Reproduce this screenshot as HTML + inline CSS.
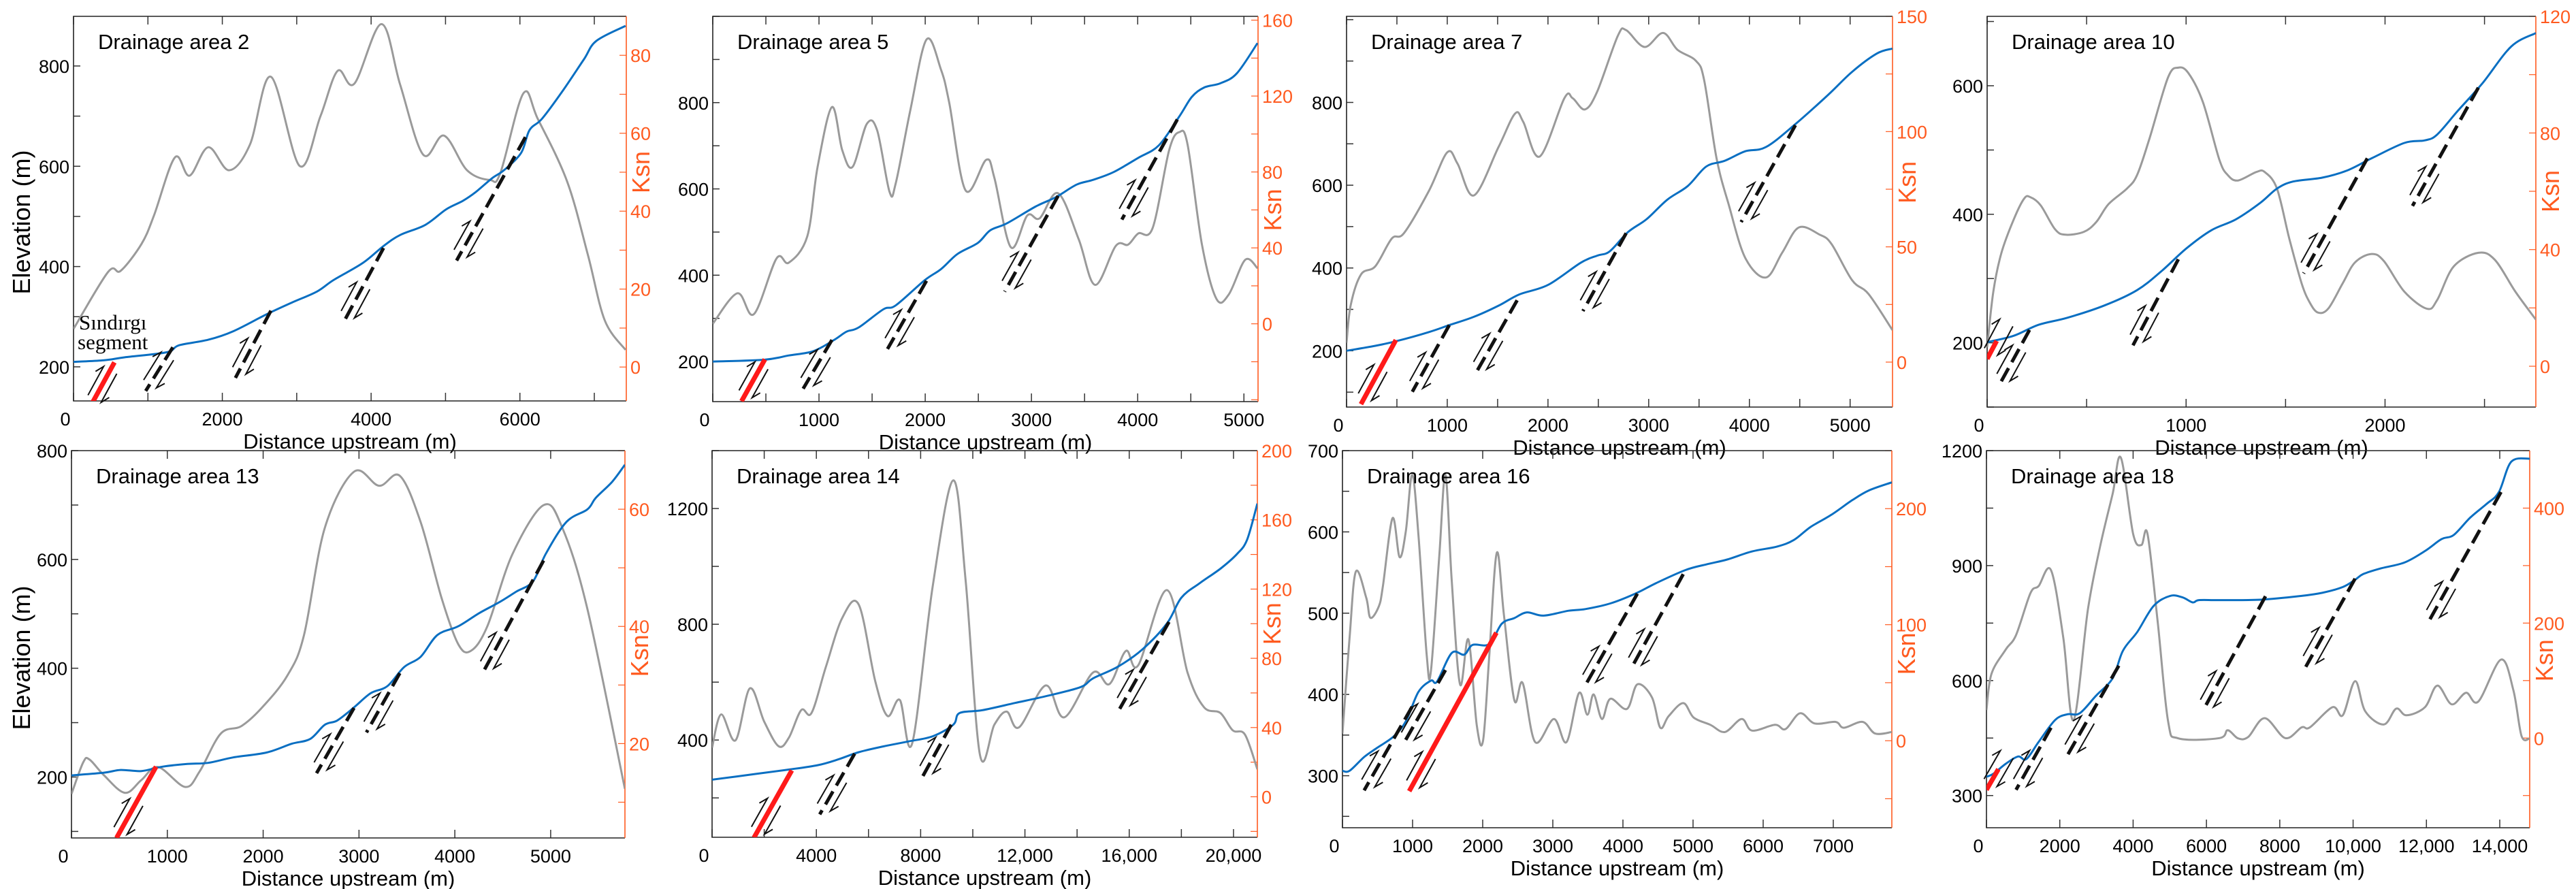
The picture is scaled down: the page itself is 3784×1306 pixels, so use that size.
<!DOCTYPE html>
<html><head><meta charset="utf-8"><title>Drainage area profiles</title>
<style>
html,body{margin:0;padding:0;background:#fff;}
svg{display:block;font-family:"Liberation Sans",Arial,sans-serif;}
</style></head>
<body>
<svg id="fig" width="3784" height="1306" viewBox="0 0 3784 1306" xmlns="http://www.w3.org/2000/svg">
<rect width="3784" height="1306" fill="#fff"/>
</svg>
<script>
// ===== DATA (distance upstream m, elevation m, Ksn) =====
const da2_ex=[0,409,690,1251,1419,1811,2148,2597,2933,3270,3494,3887,4167,4391,4728,5008,5233,5401,5625,5793,6017,6129,6298,6578,6859,7027,7420];
const da2_ey=[210,213,219,229,243,254,271,305,328,350,373,407,441,463,483,514,531,548,576,593,627,672,695,751,813,850,880];
const da2_kx=[0,465,634,914,1082,1363,1559,1811,2092,2372,2653,3040,3320,3550,3774,4139,4391,4700,4980,5289,5597,5737,6046,6242,6635,6915,7140,7420];
const da2_ky=[9.8,24.4,24.7,31.6,38.9,53.8,49.1,56.4,50.5,57.1,74.5,51.6,64.4,76,72.7,88,72.4,54.5,59.4,50.5,48,49.8,70.2,63.6,47.6,28.7,12,4.4];
const da2_faults=[[550,209,230,122,1],[1335,239,970,152,0],[2653,312,2176,178,0],[4167,437,3634,290,0],[6074,658,5149,412,0]];

const da5_ex=[0,484,716,948,1142,1258,1374,1606,1722,1993,2148,2303,2496,2612,2767,3038,3231,3425,3580,3773,4005,4199,4392,4509,4625,4780,4934,5128];
const da5_ey=[200,204,214,224,250,269,279,321,330,388,414,449,475,504,520,559,581,610,621,639,672,701,768,813,835,845,868,938];
const da5_kx=[0,232,387,600,716,890,987,1122,1219,1316,1451,1548,1664,1722,1858,2012,2148,2226,2380,2574,2651,2806,2961,3077,3251,3444,3599,3793,3909,4005,4141,4296,4392,4470,4605,4741,4857,5012,5128];
const da5_ky=[0,16.1,5.1,34.4,32.2,46.1,82.7,114.2,91.5,82.7,105.4,101.8,69.5,73.9,112,149.8,134,116.4,70.3,86.4,76.9,40.3,57.1,55.6,68.8,44.7,20.5,41,41.7,47.6,50.5,91.5,101,94.4,41.7,13.2,15.4,33.7,29.3];
const da5_faults=[[491,205,271,108,1],[1122,250,851,137,0],[2012,387,1645,229,0],[3251,584,2748,362,0],[4373,761,3851,529,0]];

const da7_ex=[0,286,490,816,1020,1265,1510,1714,2000,2327,2490,2612,2796,2980,3184,3388,3571,3755,3959,4163,4449,4776,5020,5265,5420];
const da7_ey=[200,212,223,245,262,282,309,336,359,413,430,440,487,518,565,598,645,659,682,692,746,817,874,918,930];
const da7_kx=[0,41,143,286,449,571,816,1000,1102,1265,1510,1673,1755,1918,2163,2245,2367,2490,2694,2776,2959,3143,3286,3469,3551,3673,3796,3959,4163,4327,4490,4694,4816,5020,5184,5420];
const da7_ky=[8.4,24.7,38,41.6,53.6,56,74.1,91,86.1,72.3,93.4,107.8,104.2,89.2,114.5,114.5,109.6,117.5,141.6,144,136.7,142.8,135.5,130.7,122.3,88.6,68.1,45.2,36.7,47.6,58.4,55.4,51.2,35.5,29.5,13.9];
const da7_faults=[[490,226,143,71,1],[1020,262,653,101,0],[1694,322,1286,147,0],[2776,484,2347,296,0],[4457,745,3918,511,0]];

const da10_ex=[0,134,258,403,589,754,878,1002,1126,1250,1374,1457,1539,1684,1808,1932,2097,2200,2262,2366,2490,2634,2758];
const da10_ey=[201,211,228,239,258,282,312,347,375,392,418,440,451,457,468,487,511,515,524,561,604,661,682];
const da10_kx=[0,31,72,134,186,217,269,341,393,486,548,610,702,754,816,909,961,1012,1085,1167,1209,1260,1353,1395,1457,1519,1581,1622,1663,1715,1787,1849,1932,1994,2097,2211,2262,2345,2469,2552,2655,2758];
const da10_ky=[6.5,25.6,38.9,50.4,57.5,58,55.2,47,45.1,46.1,49.4,55.6,60.9,65.6,78.1,99,102.4,100.5,90.5,70.9,65.6,63.7,66.6,66.6,60.9,43.7,28.4,21.8,18.4,19.8,28.4,35.6,38.5,36.1,25.6,19.7,22.7,34.2,38.9,36.5,25.6,16];
const da10_faults=[[48,203,0,175,1],[213,220,62,135,0],[961,330,733,196,0],[1911,487,1591,308,0],[2469,597,2138,413,0]];

const da13_ex=[0,339,513,730,948,1209,1426,1687,2035,2296,2491,2643,2774,2948,3122,3296,3470,3643,3817,4035,4252,4470,4643,4817,4948,5165,5383,5470,5643,5774];
const da13_ey=[203,208,213,211,219,224,226,236,245,261,270,296,304,328,354,367,402,421,461,477,501,522,541,560,610,669,692,713,743,774];
const da13_kx=[0,122,187,339,557,730,904,1187,1339,1557,1774,1991,2252,2426,2643,2948,3209,3426,3643,3861,4035,4165,4339,4600,4926,5122,5383,5774];
const da13_ky=[11.4,16.8,17.3,14.6,11.6,13.8,16,12.6,15.3,21.7,23,26.2,31.6,38.5,56.8,66.4,64,65.7,57.8,44.9,37,35.8,40,52.3,60.7,56.8,43,12.3];
const da13_faults=[[883,219,470,88,1],[2948,327,2557,207,0],[3426,391,3078,282,0],[4926,598,4296,393,0]];

const da14_ex=[0,1686,2947,4051,4839,5627,6573,7518,8464,9252,9489,10356,11616,12877,14138,14611,15557,16502,17448,18000,18707,19496,20126,20520,20914];
const da14_ey=[263,283,298,313,333,358,378,395,413,453,493,503,528,553,583,613,653,713,803,892,942,992,1042,1092,1217];
const da14_kx=[0,347,898,1450,2001,2553,2947,3420,3814,4366,4997,5627,6258,6730,7203,7676,8464,9252,9725,10276,10828,11301,11774,12798,13507,14611,15241,15872,16345,17448,18236,18866,19496,19969,20441,20914];
const da14_ky=[28.4,47.6,32.6,62.6,43.4,29.2,34.2,50.1,48.4,75.1,103.5,111,66.8,46.7,55.9,30.9,121.9,182.8,125.2,24.2,41.7,49.2,40.1,64.3,45.9,71.8,65.1,84.3,76,119.4,71.8,51.8,48.4,38.4,35.9,15.9];
const da14_faults=[[3058,295,1608,63,1],[5469,353,4129,143,0],[9173,453,8070,273,0],[17526,808,15635,508,0]];

const da16_ex=[0,101,309,488,726,904,1083,1261,1350,1558,1737,1856,2094,2272,2451,2630,2868,3225,3463,3819,4176,4474,4890,5188,5485,5842,6199,6437,6675,6972,7270,7508,7835];
const da16_ey=[306,306,323,334,348,367,403,417,416,451,449,461,462,487,494,501,497,503,505,512,524,537,553,560,566,576,582,590,606,621,639,651,661];
const da16_kx=[0,101,190,339,399,518,577,714,815,904,994,1083,1202,1261,1380,1469,1558,1677,1796,1915,2005,2094,2201,2303,2451,2570,2749,3016,3195,3373,3492,3582,3701,3819,4057,4206,4414,4533,4652,4860,5009,5247,5455,5693,5842,6169,6318,6526,6734,7032,7151,7419,7597,7835];
const da16_ky=[6.2,88.4,145.7,123.3,105.9,115.8,133.2,191.8,158.2,180.6,229.1,178.1,73.5,59.8,158.2,229.1,138.2,48.6,87.2,13.7,0,73.5,161.9,108.3,34.9,49.8,-1.2,18.7,-1.2,41.1,22.4,39.9,18.7,36.1,27.4,48.6,37.4,11.2,21.2,32.4,19.9,13.7,7.5,18.7,8.7,13.7,10,23.7,14.9,16.2,11.2,16.2,6.2,7.5];
const da16_faults=[[2195,476,952,281,1],[994,385,309,282,0],[1469,430,875,340,0],[4206,524,3462,411,0],[4860,548,4117,432,0]];

const da18_ex=[0,191,527,863,1087,1424,1872,2208,2545,2993,3442,3722,4114,4562,5011,5347,5627,5795,6356,7476,8597,9158,9718,10054,10278,10727,11400,11960,12409,12745,13193,13641,13978,14314,14818];
const da18_ey=[349,357,383,402,395,440,497,512,515,561,606,678,727,795,821,817,804,810,810,811,821,829,844,863,878,892,908,938,969,980,1025,1061,1092,1171,1179];
const da18_kx=[0,135,527,807,1200,1424,1760,2096,2376,2769,3105,3442,3666,4002,4226,4394,4675,4955,5235,6356,6580,6861,7141,7589,8150,8597,8821,9438,9718,10054,10334,10839,11175,11456,11960,12297,12689,13081,13417,14034,14370,14595,14818];
const da18_ky=[48.7,111.4,154.1,179.2,252,264.5,292.1,174.2,31.1,224.3,334.8,425.1,487.8,354.8,335.8,354.8,199.2,28.6,-0.5,0,13.6,-0.5,2,34.6,0,18.6,18.6,53.7,39.6,98.9,46.2,23.6,51.2,39.6,53.7,91.3,58.7,78.8,63.7,136.5,83.8,3.5,-0.5];
const da18_faults=[[325,369,0,315,1],[1760,477,807,315,0],[3609,639,2208,405,0],[7611,820,5907,522,0],[10054,866,8709,636,0],[14034,1092,12073,756,0]];

// ===== LAYOUT CONFIG =====
const SVGNS="http://www.w3.org/2000/svg";
const fig=document.getElementById('fig');
const ORANGE="#FF5A1F";
const cfgs=[
 {id:'da2',title:'Drainage area 2',box:[108,24,920,589],xr:[0,7430],yr:[132,899],kr:[-8.7,90],xTick:1000,xLab:2000,yMinor:100,yLabs:[200,400,600,800],kMinor:10,kLabs:[0,20,40,60,80],kTitle:50,elevTitle:true,ex:da2_ex,ey:da2_ey,kx:da2_kx,ky:da2_ky,f:da2_faults},
 {id:'da5',title:'Drainage area 5',box:[1047,24,1848,590],xr:[0,5133],yr:[107,1000],kr:[-41,162],xTick:500,xLab:1000,yMinor:100,yLabs:[200,400,600,800],kMinor:20,kLabs:[0,40,80,120,160],kTitle:60,ex:da5_ex,ey:da5_ey,kx:da5_kx,ky:da5_ky,f:da5_faults},
 {id:'da7',title:'Drainage area 7',box:[1978,24,2780,598],xr:[0,5421],yr:[64,1008],kr:[-19.5,150],xTick:500,xLab:1000,yMinor:100,yLabs:[200,400,600,800],kMinor:25,kLabs:[0,50,100,150],kTitle:78,ex:da7_ex,ey:da7_ey,kx:da7_kx,ky:da7_ky,f:da7_faults},
 {id:'da10',title:'Drainage area 10',box:[2919,24,3725,598],xr:[0,2758],yr:[100,708],kr:[-14,120],xTick:500,xLab:1000,yMinor:100,yLabs:[200,400,600],kMinor:20,kLabs:[0,40,80,120],kTitle:60,ex:da10_ex,ey:da10_ey,kx:da10_kx,ky:da10_ky,f:da10_faults},
 {id:'da13',title:'Drainage area 13',box:[105,662,918,1231],xr:[0,5775],yr:[88,800],kr:[3.9,70],xTick:1000,xLab:1000,yMinor:100,yLabs:[200,400,600,800],kMinor:10,kLabs:[20,40,60],kTitle:35,elevTitle:true,ex:da13_ex,ey:da13_ey,kx:da13_kx,ky:da13_ky,f:da13_faults},
 {id:'da14',title:'Drainage area 14',box:[1046,662,1847,1230],xr:[0,20915],yr:[64,1400],kr:[-23.4,200],xTick:2000,xLab:4000,yMinor:200,yLabs:[400,800,1200],kMinor:20,kLabs:[0,40,80,120,160,200],kTitle:100,ex:da14_ex,ey:da14_ey,kx:da14_kx,ky:da14_ky,f:da14_faults},
 {id:'da16',title:'Drainage area 16',box:[1972,662,2779,1216],xr:[0,7835],yr:[236,700],kr:[-75,250],xTick:1000,xLab:1000,yMinor:50,yLabs:[300,400,500,600,700],kMinor:50,kLabs:[0,100,200],kTitle:75,ex:da16_ex,ey:da16_ey,kx:da16_kx,ky:da16_ky,f:da16_faults},
 {id:'da18',title:'Drainage area 18',box:[2918,662,3716,1216],xr:[0,14817],yr:[216,1200],kr:[-156,500],xTick:2000,xLab:2000,yMinor:150,yLabs:[300,600,900,1200],kMinor:100,kLabs:[0,200,400],kTitle:135,ex:da18_ex,ey:da18_ey,kx:da18_kx,ky:da18_ky,f:da18_faults}
];

function mk(tag,attrs,parent){const e=document.createElementNS(SVGNS,tag);for(const k in attrs)e.setAttribute(k,attrs[k]);(parent||fig).appendChild(e);return e;}
function fmt(v){return v>=10000?v.toLocaleString('en-US'):String(v);}
function smoothPath(pts){
 let d='M'+pts[0][0].toFixed(1)+','+pts[0][1].toFixed(1);
 for(let i=0;i<pts.length-1;i++){
  const p0=pts[i-1]||pts[i],p1=pts[i],p2=pts[i+1],p3=pts[i+2]||p2;
  const c1=[p1[0]+(p2[0]-p0[0])/6,p1[1]+(p2[1]-p0[1])/6];
  const c2=[p2[0]-(p3[0]-p1[0])/6,p2[1]-(p3[1]-p1[1])/6];
  d+='C'+c1[0].toFixed(1)+','+c1[1].toFixed(1)+' '+c2[0].toFixed(1)+','+c2[1].toFixed(1)+' '+p2[0].toFixed(1)+','+p2[1].toFixed(1);
 }
 return d;
}

cfgs.forEach(c=>{
 const [l,t,r,b]=c.box;
 const sx=v=>l+(v-c.xr[0])/(c.xr[1]-c.xr[0])*(r-l);
 const sy=v=>b-(v-c.yr[0])/(c.yr[1]-c.yr[0])*(b-t);
 const sk=v=>b-(v-c.kr[0])/(c.kr[1]-c.kr[0])*(b-t);
 const g=mk('g',{});
 
 
 const cp=mk('clipPath',{id:'clip-'+c.id},g);
 mk('rect',{x:l,y:t,width:r-l,height:b-t},cp);

 for(let v=0;v<=c.xr[1];v+=c.xTick){
  const x=sx(v);
  const tk=mk('line',{x1:x,y1:b,x2:x,y2:b-12,stroke:'#333','stroke-width':1.5},g);
  
  
  mk('line',{x1:x,y1:t,x2:x,y2:t+12,stroke:'#333','stroke-width':1.5},g);
  if(v%c.xLab===0){
   const tx=mk('text',{x:v===0?x-12:x,y:b+36,'font-size':27,'text-anchor':'middle',fill:'#000'},g);
   tx.textContent=fmt(v);
   
   
  }
 }
 for(let v=Math.ceil(c.yr[0]/c.yMinor)*c.yMinor;v<=c.yr[1]+0.1;v+=c.yMinor){
  const y=sy(v);
  mk('line',{x1:l,y1:y,x2:l+10,y2:y,stroke:'#333','stroke-width':1.5},g);
 }
 c.yLabs.forEach(v=>{
  const ty=mk('text',{x:l-6,y:sy(v)+10,'font-size':27,'text-anchor':'end',fill:'#000'},g);
  ty.textContent=String(v);
  
  
 });
 for(let v=Math.ceil(c.kr[0]/c.kMinor)*c.kMinor;v<=c.kr[1]+0.1;v+=c.kMinor){
  const y=sk(v);
  mk('line',{x1:r,y1:y,x2:r-10,y2:y,stroke:ORANGE,'stroke-width':1.2},g);
 }
 c.kLabs.forEach(v=>{
  const tk=mk('text',{x:r+6,y:sk(v)+10,'font-size':27,fill:ORANGE},g);
  tk.textContent=String(v);
  
  
 });
 mk('path',{d:`M${r},${t}H${l}V${b}H${r}`,fill:'none',stroke:'#222','stroke-width':1.6},g);
 const ra=mk('line',{x1:r,y1:t,x2:r,y2:b,stroke:ORANGE,'stroke-width':1.6},g);
 
 

 const pg=mk('g',{'clip-path':'url(#clip-'+c.id+')'},g);
 const kp=c.kx.map((v,i)=>[sx(v),sk(c.ky[i])]);
 const ksn=mk('path',{d:smoothPath(kp),fill:'none',stroke:'#9a9a9a','stroke-width':3},pg);
 
 
 const ep=c.ex.map((v,i)=>[sx(v),sy(c.ey[i])]);
 const el=mk('path',{d:smoothPath(ep),fill:'none',stroke:'#0a6fc2','stroke-width':3},pg);
 
 
 c.f.forEach(f=>{
  const x1=sx(f[0]),y1=sy(f[1]),x2=sx(f[2]),y2=sy(f[3]);
  const red=f[4]===1;
  const ln=mk('line',{x1,y1,x2,y2,stroke:red?'#ff1a1a':'#111','stroke-width':red?7:5,'stroke-dasharray':red?'none':'22,10'},pg);
  
  
  const L=Math.hypot(x1-x2,y1-y2),ux=(x1-x2)/L,uy=(y1-y2)/L,nx=-uy,ny=ux;
  const a0=12,a1=60,off=11;
  const lx1=x2+ux*a1+nx*off,ly1=y2+uy*a1+ny*off,lx2=x2+ux*a0+nx*off,ly2=y2+uy*a0+ny*off;
  const rx1=x2+ux*a0-nx*off,ry1=y2+uy*a0-ny*off,rx2=x2+ux*a1-nx*off,ry2=y2+uy*a1-ny*off;
  const ar=mk('path',{d:`M${lx1},${ly1}L${lx2},${ly2}L${lx2+ux*12+nx*7},${ly2+uy*12+ny*7}M${rx1},${ry1}L${rx2},${ry2}L${rx2-ux*12-nx*7},${ry2-uy*12-ny*7}`,fill:'none',stroke:'#111','stroke-width':2},g);
  
  
 });

 const tt=mk('text',{x:l+36,y:t+48,'font-size':31,fill:'#000'},g);
 tt.textContent=c.title;
 
 
 const xt=mk('text',{x:(l+r)/2,y:b+70,'font-size':31,'text-anchor':'middle',fill:'#000'},g);
 xt.textContent='Distance upstream (m)';
 
 
 const kc=sk(c.kTitle);
 const kt=mk('text',{x:r+34,y:kc,'font-size':36,'text-anchor':'middle',fill:ORANGE,transform:`rotate(-90 ${r+34} ${kc})`},g);
 kt.textContent='Ksn';
 
 
 if(c.elevTitle){
  const ec=(t+b)/2+20;
  const et=mk('text',{x:44,y:ec,'font-size':36,'text-anchor':'middle',fill:'#000',transform:`rotate(-90 44 ${ec})`},g);
  et.textContent='Elevation (m)';
  
  
 }
 if(c.id==='da2'){
  const s1=mk('text',{x:116,y:484,'font-size':31,'font-family':'"Liberation Serif",serif',fill:'#000'},g);
  s1.textContent='Sındırgı';
  
  
  const s2=mk('text',{x:114,y:513,'font-size':31,'font-family':'"Liberation Serif",serif',fill:'#000'},g);
  s2.textContent='segment';
  
  
 }
});
</script>
</body></html>
